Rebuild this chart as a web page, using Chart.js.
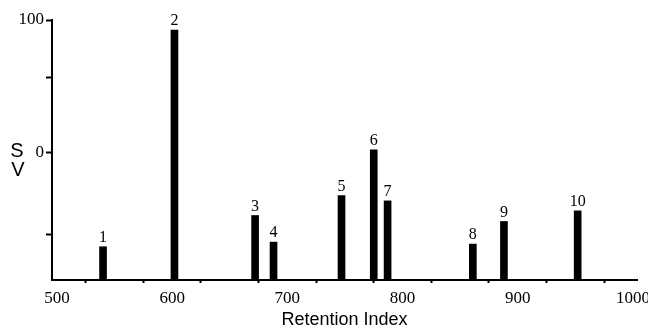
<!DOCTYPE html>
<html>
<head>
<meta charset="utf-8">
<script src="https://cdn.jsdelivr.net/npm/chart.js@4.4.0/dist/chart.umd.min.js"></script>
<style>
html,body{margin:0;padding:0;background:#fff;}
#wrap{width:648px;height:331px;position:relative;}
</style>
</head>
<body>
<div id="wrap"><canvas id="c" width="648" height="331"></canvas></div>
<script>
// Data
const peakLabels = ['1','2','3','4','5','6','7','8','9','10'];
const retentionIndex = [540, 602, 672, 688, 747, 775, 787, 861, 888, 952];
const signal = [-70.5, 92.5, -47, -67, -32, 2.3, -36, -68.5, -51.5, -43.5];
const xTickValues = [500, 550, 600, 650, 700, 750, 800, 850, 900, 950, 1000];
const xTickLabels = {500:'500', 600:'600', 700:'700', 800:'800', 900:'900', 1000:'1000'};
const yTickValues = [-61, 0, 57, 100];
const yTickLabels = {0:'0', 100:'100'};
const yMin = -95.5, yMax = 100;
const xMin = 495.7, xMax = 1003.5;

const peakLabelPlugin = {
  id: 'peakLabels',
  afterDatasetsDraw(chart) {
    const ctx = chart.ctx;
    const meta = chart.getDatasetMeta(0);
    ctx.save();
    ctx.fillStyle = '#000';
    ctx.font = '16px "Liberation Serif", "DejaVu Serif", serif';
    ctx.textAlign = 'center';
    ctx.textBaseline = 'bottom';
    meta.data.forEach((bar, i) => {
      ctx.fillText(peakLabels[i], bar.x, bar.y - 1);
    });
    ctx.restore();
  }
};

const sideTitlePlugin = {
  id: 'sideTitle',
  afterDraw(chart) {
    const ctx = chart.ctx;
    ctx.save();
    ctx.fillStyle = '#000';
    ctx.font = '20px "Liberation Sans", Arial, sans-serif';
    ctx.textAlign = 'center';
    ctx.textBaseline = 'middle';
    ctx.fillText('S', 17, 151);
    ctx.fillText('V', 18, 170);
    ctx.restore();
  }
};

const chart = new Chart(document.getElementById('c'), {
  type: 'bar',
  data: {
    datasets: [{
      data: retentionIndex.map((x, i) => ({x: x, y: signal[i]})),
      backgroundColor: '#000',
      borderWidth: 0,
      barThickness: 7,
      base: yMin
    }]
  },
  options: {
    responsive: false,
    animation: false,
    devicePixelRatio: 1,
    layout: { autoPadding: false, padding: { left: 0, top: 20, right: 11, bottom: 0 } },
    plugins: { legend: { display: false }, tooltip: { enabled: false } },
    scales: {
      x: {
        type: 'linear',
        min: xMin, max: xMax,
        offset: false,
        grid: { display: true, drawOnChartArea: false, drawTicks: true, tickLength: 3, tickColor: '#000', tickWidth: 2 },
        border: { display: true, color: '#000', width: 2 },
        afterBuildTicks(scale) { scale.ticks = xTickValues.map(v => ({ value: v })); },
        afterFit(scale) { scale.height = 51; scale.paddingLeft = 0; scale.paddingRight = 0; },
        ticks: {
          autoSkip: false, maxRotation: 0, color: '#000', padding: 5,
          font: { family: '"Liberation Serif", "DejaVu Serif", serif', size: 17 },
          callback: (v) => xTickLabels[v] || ''
        },
        title: {
          display: true, text: 'Retention Index', color: '#000',
          font: { family: '"Liberation Sans", Arial, sans-serif', size: 18 },
          padding: { top: 0, bottom: 0 }
        }
      },
      y: {
        type: 'linear',
        min: yMin, max: yMax,
        grid: { display: true, drawOnChartArea: false, drawTicks: true, tickLength: 6, tickColor: '#000', tickWidth: 2 },
        border: { display: true, color: '#000', width: 2 },
        afterBuildTicks(scale) { scale.ticks = yTickValues.map(v => ({ value: v })); },
        afterFit(scale) { scale.width = 52; scale.paddingTop = 0; scale.paddingBottom = 0; },
        ticks: {
          autoSkip: false, color: '#000', padding: 2,
          font: { family: '"Liberation Serif", "DejaVu Serif", serif', size: 17 },
          callback: (v) => yTickLabels[v] || ''
        }
      }
    }
  },
  plugins: [peakLabelPlugin, sideTitlePlugin]
});
</script>
</body>
</html>
